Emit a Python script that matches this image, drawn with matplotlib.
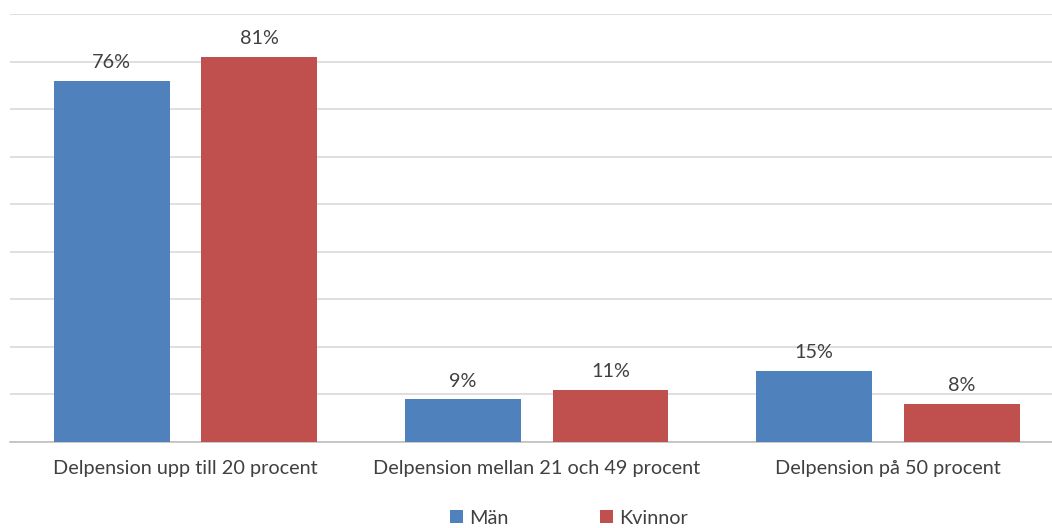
import matplotlib
matplotlib.use("Agg")
import matplotlib.pyplot as plt
import numpy as np

categories = ["Delpension upp till 20 procent", "Delpension mellan 21 och 49 procent", "Delpension på 50 procent"]
man = [76, 9, 15]
kvinnor = [81, 11, 8]
series_names = ["Män", "Kvinnor"]
colors = ["#4F81BD", "#C0504D"]

plt.rcParams['font.family'] = ['Lato', 'DejaVu Sans']

fig = plt.figure(figsize=(10.52, 5.28), dpi=100)
ax = fig.add_axes([10/1052, 86/528, 1.0 - 10/1052, (442-14)/528])

x = np.arange(len(categories))
w = 0.33
off = 0.21
b1 = ax.bar(x - off, man, w, color=colors[0], label=series_names[0], zorder=3)
b2 = ax.bar(x + off, kvinnor, w, color=colors[1], label=series_names[1], zorder=3)

for bars, vals in ((b1, man), (b2, kvinnor)):
    for r, v in zip(bars, vals):
        ax.text(r.get_x() + r.get_width()/2, v + 2.0, f"{v}%", ha='center', va='bottom',
                fontsize=14.3, color='#404040')

ax.set_xlim(-0.5, 2.467)
ax.set_ylim(0, 90)
ax.set_yticks(np.arange(0, 91, 10))
ax.yaxis.grid(True, color='#D9D9D9', linewidth=1.2, zorder=0)
ax.tick_params(axis='y', length=0, labelleft=False)
ax.set_xticks(x)
ax.set_xticklabels(categories, fontsize=14.3, color='#404040')
ax.tick_params(axis='x', length=0, pad=13)
for s in ['top', 'right', 'left']:
    ax.spines[s].set_visible(False)
ax.spines['bottom'].set_color('#BFBFBF')
ax.spines['bottom'].set_linewidth(1.2)

fig.legend(handles=[b1, b2], labels=series_names, loc='center', bbox_to_anchor=(569/1052, 1 - 518/528),
           ncol=2, frameon=False, fontsize=14.3, handlelength=0.65, handleheight=0.65,
           columnspacing=4.6, handletextpad=0.3, labelcolor='#404040')

fig.savefig("out.png", dpi=100)
